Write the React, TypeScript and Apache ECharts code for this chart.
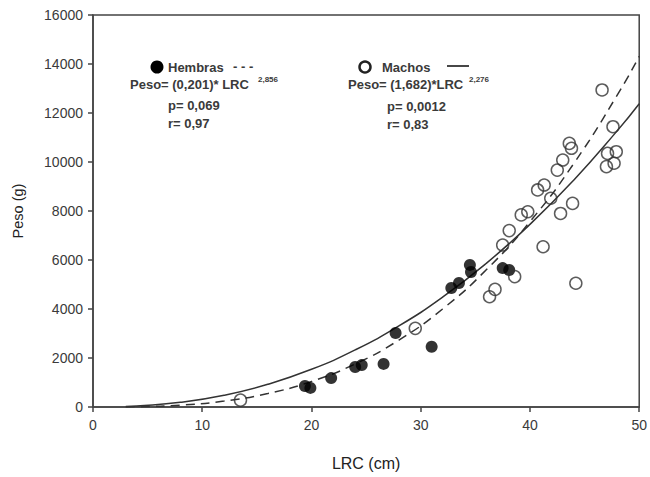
import React, { useEffect, useRef } from "react";
import * as echarts from "echarts";

// Hembras (filled) observations: LRC (cm), Peso (g)
const hembrasLRC = [19.4, 19.9, 21.8, 24.0, 24.6, 26.6, 27.7, 31.0, 32.8, 33.5, 34.5, 34.6, 37.5, 38.1];
const hembrasPeso = [860, 780, 1180, 1630, 1710, 1760, 3020, 2460, 4860, 5060, 5800, 5510, 5670, 5590];

// Machos (open) observations
const machosLRC = [13.5, 29.5, 36.3, 36.8, 38.6, 37.5, 38.1, 39.2, 39.8, 40.7, 41.3, 41.9, 41.2, 42.8, 43.9, 42.5, 43.0, 43.6, 43.8, 44.2, 46.6, 47.6, 47.0, 47.7, 47.1, 47.9];
const machosPeso = [280, 3210, 4500, 4800, 5320, 6610, 7200, 7840, 7970, 8860, 9060, 8520, 6540, 7900, 8310, 9670, 10080, 10760, 10560, 5050, 12940, 11440, 9810, 9950, 10350, 10420];

// Fitted curves (tabulated)
const curveLRC = [3, 4, 8, 12, 16, 20, 24, 28, 32, 36, 40, 44, 48, 50];
const hembrasFit = [5, 10, 76, 243, 552, 1044, 1758, 2731, 4000, 5600, 7566, 9933, 12737, 14311];
const machosFit = [20, 39, 191, 481, 926, 1538, 2330, 3308, 4483, 5863, 7453, 9256, 11281, 12380];

const xTicks = [0, 10, 20, 30, 40, 50];
const yTicks = [0, 2000, 4000, 6000, 8000, 10000, 12000, 14000, 16000];

const zip = (a: number[], b: number[]) => a.map((v, i) => [v, b[i]]);

const TXT = "#3a3a3a";
const AX = "#444";

export default function App() {
  const ref = useRef<HTMLDivElement>(null);
  useEffect(() => {
    if (!ref.current) return;
    const chart = echarts.init(ref.current, null, { renderer: "svg" });
    const lf = "Liberation Sans, Arial, sans-serif";
    const annStyle = { fill: TXT, font: `bold 13px ${lf}`, verticalAlign: "middle" };
    const supStyle = { fill: TXT, font: `bold 8px ${lf}`, verticalAlign: "middle" };
    chart.setOption({
      animation: false,
      backgroundColor: "#fff",
      grid: {
        left: 93,
        right: 10,
        top: 15,
        bottom: 70,
        show: true,
        borderColor: AX,
        borderWidth: 1.5,
        backgroundColor: "transparent",
      },
      xAxis: {
        type: "value",
        min: xTicks[0],
        max: xTicks[xTicks.length - 1],
        interval: 10,
        name: "LRC (cm)",
        nameLocation: "middle",
        nameGap: 48,
        nameTextStyle: { fontSize: 16, color: "#222", fontFamily: lf },
        axisLine: { show: true, lineStyle: { color: AX, width: 1.5 } },
        axisTick: { show: true, length: 5, lineStyle: { color: AX, width: 1.5 } },
        axisLabel: { fontSize: 14, color: TXT, margin: 11, fontFamily: lf },
        splitLine: { show: false },
      },
      yAxis: {
        type: "value",
        min: yTicks[0],
        max: yTicks[yTicks.length - 1],
        interval: 2000,
        name: "Peso (g)",
        nameLocation: "middle",
        nameGap: 68,
        nameTextStyle: { fontSize: 14.5, color: "#222", fontFamily: lf },
        axisLine: { show: true, lineStyle: { color: AX, width: 1.5 } },
        axisTick: { show: true, length: 5, lineStyle: { color: AX, width: 1.5 } },
        axisLabel: { fontSize: 14, color: TXT, margin: 10, fontFamily: lf, formatter: (v: number) => String(v) },
        splitLine: { show: false },
      },
      series: [
        {
          type: "line",
          name: "Machos fit",
          data: zip(curveLRC, machosFit),
          smooth: true,
          showSymbol: false,
          lineStyle: { color: "#333", width: 1.5 },
          z: 1,
        },
        {
          type: "line",
          name: "Hembras fit",
          data: zip(curveLRC, hembrasFit),
          smooth: true,
          showSymbol: false,
          lineStyle: { color: "#333", width: 1.5, type: [9, 6] },
          z: 1,
        },
        {
          type: "scatter",
          name: "Hembras",
          data: zip(hembrasLRC, hembrasPeso),
          symbol: "circle",
          symbolSize: 12,
          itemStyle: { color: "#000" },
          z: 3,
        },
        {
          type: "scatter",
          name: "Machos",
          data: zip(machosLRC, machosPeso),
          symbol: "circle",
          symbolSize: 12,
          itemStyle: { color: "rgba(255,255,255,0)", borderColor: "#333", borderWidth: 1.5 },
          z: 4,
        },
      ],
      graphic: [
        { type: "circle", shape: { cx: 157, cy: 67, r: 6.5 }, style: { fill: "#000" } },
        { type: "text", x: 168, y: 67, style: { ...annStyle, text: "Hembras" } },
        { type: "text", x: 233, y: 66, style: { ...annStyle, text: "- - -" } },
        { type: "text", x: 130, y: 84, style: { ...annStyle, text: "Peso= (0,201)* LRC" } },
        { type: "text", x: 258, y: 79, style: { ...supStyle, text: "2,856" } },
        { type: "text", x: 168, y: 105, style: { ...annStyle, text: "p= 0,069" } },
        { type: "text", x: 168, y: 123, style: { ...annStyle, text: "r= 0,97" } },

        { type: "circle", shape: { cx: 365, cy: 67, r: 5.5 }, style: { fill: "#fff", stroke: "#222", lineWidth: 2.5 } },
        { type: "text", x: 382, y: 67, style: { ...annStyle, text: "Machos" } },
        { type: "line", shape: { x1: 447, y1: 66, x2: 469, y2: 66 }, style: { stroke: "#333", lineWidth: 1.8 } },
        { type: "text", x: 348, y: 84, style: { ...annStyle, text: "Peso= (1,682)*LRC" } },
        { type: "text", x: 469, y: 79, style: { ...supStyle, text: "2,276" } },
        { type: "text", x: 387, y: 106, style: { ...annStyle, text: "p= 0,0012" } },
        { type: "text", x: 387, y: 124, style: { ...annStyle, text: "r= 0,83" } },
      ],
    });
    return () => chart.dispose();
  }, []);
  return <div ref={ref} style={{ width: 650, height: 477, position: "absolute", left: 0, top: 0 }} />;
}
